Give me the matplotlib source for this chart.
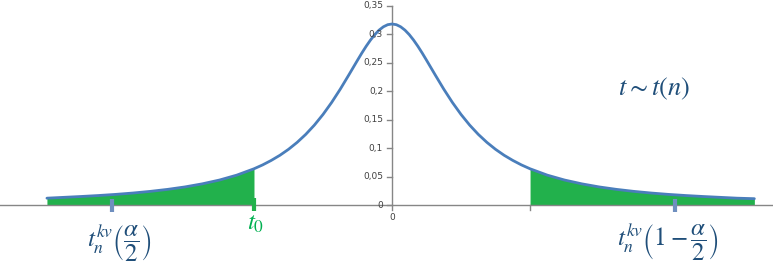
import matplotlib.pyplot as plt

# values (density curve, denser near the peak)
x = [-5.0, -4.75, -4.5, -4.25, -4.0, -3.75, -3.5, -3.25, -3.0, -2.75, -2.5, -2.25,
     -2.0, -1.875, -1.75, -1.625, -1.5, -1.375, -1.25, -1.125, -1.0, -0.875,
     -0.75, -0.625, -0.5, -0.4375, -0.375, -0.3125, -0.25, -0.1875, -0.125,
     -0.0625, 0.0, 0.0625, 0.125, 0.1875, 0.25, 0.3125, 0.375, 0.4375, 0.5,
     0.625, 0.75, 0.875, 1.0, 1.125, 1.25, 1.375, 1.5, 1.625, 1.75, 1.875,
     2.0, 2.25, 2.5, 2.75, 3.0, 3.25, 3.5, 3.75, 4.0, 4.25, 4.5, 4.75, 5.0, 5.25]
y = [0.012, 0.0135, 0.015, 0.0167, 0.0187, 0.0211, 0.024, 0.0275, 0.0318, 0.0372,
     0.0439, 0.0525, 0.0637, 0.0705, 0.0784, 0.0874, 0.0979, 0.1101, 0.1242,
     0.1405, 0.1592, 0.1803, 0.2037, 0.2289, 0.2546, 0.2672, 0.2791, 0.29,
     0.2996, 0.3075, 0.3134, 0.3171, 0.3183, 0.3171, 0.3134, 0.3075, 0.2996,
     0.29, 0.2791, 0.2672, 0.2546, 0.2289, 0.2037, 0.1803, 0.1592, 0.1405,
     0.1242, 0.1101, 0.0979, 0.0874, 0.0784, 0.0705, 0.0637, 0.0525, 0.0439,
     0.0372, 0.0318, 0.0275, 0.024, 0.0211, 0.0187, 0.0167, 0.015, 0.0135,
     0.012, 0.0111]
t0 = -2.0
t_right = 2.0
crit = [-4.05, 4.1]
yticks = [0, 0.05, 0.1, 0.15, 0.2, 0.25, 0.3, 0.35]
ytick_labels = ["0", "0,05", "0,1", "0,15", "0,2", "0,25", "0,3", "0,35"]

plt.rcParams['mathtext.fontset'] = 'stix'
blue = '#4a7ebb'
green = '#22b14c'
navy = '#1f4e79'
gray = '#868686'

fig = plt.figure(figsize=(7.73, 2.70), dpi=100)
ax = fig.add_axes([0, 0, 1, 1])
ax.set_xlim(-5.68, 5.52)
ax.set_ylim(-0.1143, 0.3605)
ax.axis('off')

# axes lines
ax.axhline(0, color=gray, lw=1)
ax.plot([0, 0], [-0.009, 0.35], color=gray, lw=1)
for v, lab in zip(yticks, ytick_labels):
    ax.plot([-0.07, 0], [v, v], color=gray, lw=1)
    ax.text(-0.13, v, lab, ha='right', va='center', fontsize=6.5, color='#404040')
ax.text(0, -0.022, "0", ha='center', va='center', fontsize=6.5, color='#404040')
ax.plot([t_right, t_right], [0, -0.008], color=gray, lw=1)

# shaded tails
lx = [a for a in x if a <= t0]
ly = [b for a, b in zip(x, y) if a <= t0]
rx = [a for a in x if a >= t_right]
ry = [b for a, b in zip(x, y) if a >= t_right]
ax.fill_between(lx, 0, ly, color=green, lw=0)
ax.fill_between(rx, 0, ry, color=green, lw=0)

ax.plot(x, y, color=blue, lw=2, solid_capstyle='round', solid_joinstyle='round')

# marks on the axis
ax.vlines(crit, -0.0125, 0.0105, color='#6f8fbf', lw=3)
ax.vlines([t0], -0.011, 0.012, color=green, lw=3)

# labels
ax.text(3.8, 0.205, r"$t{\sim}t(n)$", fontsize=19, color=navy, ha='center', va='center')
ax.text(-2.0 + 0.03, -0.032, r"$t_0$", fontsize=18, color='#00b050', ha='center', va='center')
ax.text(-3.95, -0.068, r"$t_n^{kv}\left(\dfrac{\alpha}{2}\right)$", fontsize=18,
        color=navy, ha='center', va='center')
ax.text(4.0, -0.066, r"$t_n^{kv}\left(1-\dfrac{\alpha}{2}\right)$", fontsize=18,
        color=navy, ha='center', va='center')

fig.savefig('out.png', dpi=100)
